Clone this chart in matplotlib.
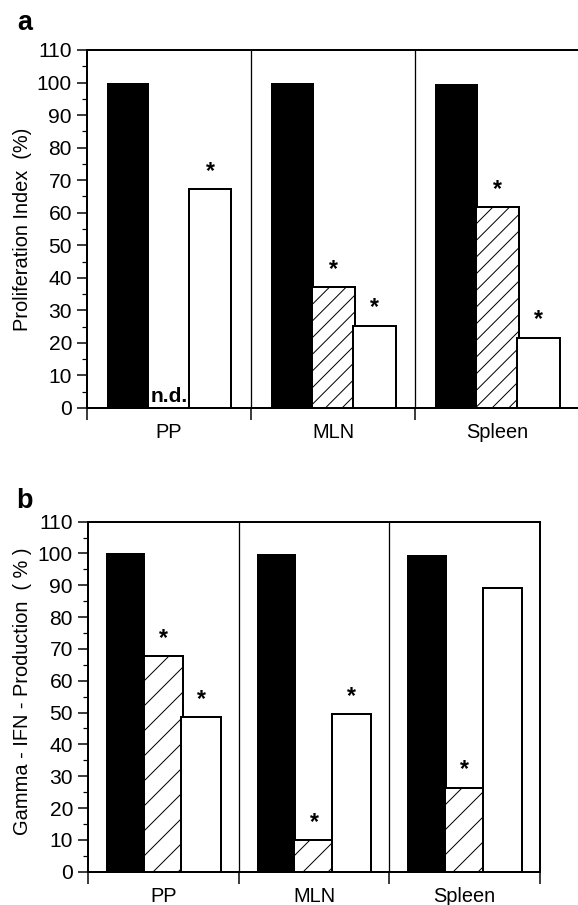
import matplotlib
matplotlib.use("Agg")
import matplotlib.pyplot as plt
from matplotlib.ticker import MultipleLocator, FixedLocator, NullFormatter

plt.rcParams['font.family'] = ['Liberation Sans', 'DejaVu Sans']

DPI = 150  # hatch density in Agg follows the dpi, 150 gives the scanned spacing


def px(v):
    # pixel size -> points
    return v * 72.0 / DPI


plt.rcParams['hatch.linewidth'] = px(1.0)

groups = ['PP', 'MLN', 'Spleen']

# panel a: proliferation index (%)
prolif_control = [100, 99.7, 99.5]
prolif_hatched = [None, 37.1, 61.7]     # None = not determined
prolif_open = [67.2, 25.2, 21.5]
prolif_star_hatched = [False, True, True]
prolif_star_open = [True, True, True]

# panel b: gamma-IFN production (%)
ifn_control = [100, 99.8, 99.6]
ifn_hatched = [67.7, 9.9, 26.4]
ifn_open = [48.6, 49.4, 89.2]
ifn_star_hatched = [True, True, True]
ifn_star_open = [True, True, False]

W = 0.26


def draw_panel(ax, control, hatched, opened, star_h, star_o, hatch, ylabel, label_xy):
    n = len(groups)
    for i in range(n):
        ax.bar(i + 0.25, control[i], W, color='black', edgecolor='black', lw=0)
        if hatched[i] is None:
            ax.text(i + 0.5, 0.5, 'n.d.', ha='center', va='bottom',
                    fontsize=px(21), fontweight='bold')
        else:
            ax.bar(i + 0.5, hatched[i], W, color='white', edgecolor='black',
                   lw=px(2), hatch=hatch)
            if star_h[i]:
                ax.text(i + 0.5, hatched[i] + 2.0, '*', ha='center', va='bottom',
                        fontsize=px(23), fontweight='bold')
        ax.bar(i + 0.75, opened[i], W, color='white', edgecolor='black', lw=px(2))
        if star_o[i]:
            ax.text(i + 0.75, opened[i] + 2.0, '*', ha='center', va='bottom',
                    fontsize=px(23), fontweight='bold')

    for s in range(1, n):
        ax.axvline(s, color='black', lw=px(1.3))

    ax.set_xlim(0, n)
    ax.set_ylim(0, 110)
    ax.yaxis.set_major_locator(MultipleLocator(10))
    ax.yaxis.set_minor_locator(MultipleLocator(5))
    ax.tick_params(axis='y', which='major', length=px(10), width=px(1.5),
                   labelsize=px(21), pad=px(5))
    ax.tick_params(axis='y', which='minor', length=px(5), width=px(1.2))

    ax.xaxis.set_major_locator(FixedLocator(range(n + 1)))
    ax.xaxis.set_major_formatter(NullFormatter())
    ax.xaxis.set_minor_locator(FixedLocator([i + 0.5 for i in range(n)]))
    ax.set_xticklabels(groups, minor=True)
    ax.tick_params(axis='x', which='major', length=px(12), width=px(1.5))
    ax.tick_params(axis='x', which='minor', length=0, labelsize=px(20), pad=px(15))

    for sp in ax.spines.values():
        sp.set_linewidth(px(2))

    ax.set_ylabel(ylabel, fontsize=px(20))
    ax.yaxis.set_label_coords(*label_xy)


fig = plt.figure(figsize=(578 / DPI, 905 / DPI), dpi=DPI)
ax_a = fig.add_axes([0.1505, 0.5492, 0.852, 0.3956])
ax_b = fig.add_axes([0.1522, 0.0368, 0.7821, 0.3868])

draw_panel(ax_a, prolif_control, prolif_hatched, prolif_open,
           prolif_star_hatched, prolif_star_open, '///',
           'Proliferation Index  (%)', (-0.112, 0.5))
draw_panel(ax_b, ifn_control, ifn_hatched, ifn_open,
           ifn_star_hatched, ifn_star_open, '//',
           'Gamma - IFN - Production  ( % )', (-0.124, 0.515))

fig.text(17 / 578, 1 - 30 / 905, 'a', fontsize=px(27), fontweight='bold',
         ha='left', va='baseline')
fig.text(16 / 578, 1 - 508 / 905, 'b', fontsize=px(27), fontweight='bold',
         ha='left', va='baseline')

fig.savefig('out.png', dpi=DPI)
